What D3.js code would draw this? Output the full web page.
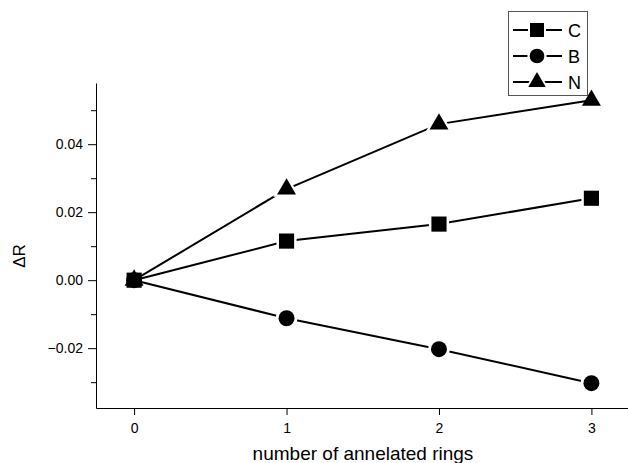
<!DOCTYPE html>
<html>
<head>
<meta charset="utf-8">
<script src="https://cdn.jsdelivr.net/npm/d3@7"></script>
<style>
body { margin: 0; background: #fff; }
text { font-family: "Liberation Sans", Arial, sans-serif; }
</style>
</head>
<body>
<svg width="628" height="463"></svg>
<script>
// data
var rings = [0, 1, 2, 3];
var seriesNames = ['C', 'B', 'N'];
var valC = [0, 0.0115, 0.0165, 0.0241];
var valB = [0, -0.0112, -0.0203, -0.0303];
var valN = [0, 0.0268, 0.0459, 0.0529];
var yMajor = [-0.02, 0.00, 0.02, 0.04];
var yMinor = [-0.03, -0.01, 0.01, 0.03, 0.05];

var series = [
  {name: 'C', shape: d3.symbolSquare, size: 230, values: valC},
  {name: 'B', shape: d3.symbolCircle, size: 200, values: valB},
  {name: 'N', shape: d3.symbolTriangle, size: 155, values: valN}
];

var svg = d3.select('svg');
var x = d3.scaleLinear().domain([-0.25, 3.24]).range([96, 628]);
var y = d3.scaleLinear().domain([-0.0376, 0.058]).range([408, 83]);

// x axis
var xAxis = d3.axisBottom(x).tickValues(rings).tickSize(7).tickPadding(8)
  .tickFormat(d3.format('d')).tickSizeOuter(0);
var gx = svg.append('g').attr('transform', 'translate(0,408)').call(xAxis);
gx.attr('font-size', 14).attr('font-family', '"Liberation Sans", Arial, sans-serif');
gx.selectAll('text').attr('fill', '#000');

// y axis
var yAxis = d3.axisLeft(y).tickValues(yMajor).tickSize(8).tickPadding(5)
  .tickFormat(d3.format('.2f')).tickSizeOuter(0);
var gy = svg.append('g').attr('transform', 'translate(96,0)').call(yAxis);
gy.attr('font-size', 14).attr('font-family', '"Liberation Sans", Arial, sans-serif');
gy.selectAll('text').attr('fill', '#000');
svg.append('g').attr('transform', 'translate(96,0)')
  .call(d3.axisLeft(y).tickValues(yMinor).tickSize(5).tickFormat('').tickSizeOuter(0))
  .select('.domain').remove();
svg.selectAll('.domain').attr('stroke', '#000').attr('stroke-width', 1);

// axis titles
svg.append('text').attr('x', 363).attr('y', 460).attr('text-anchor', 'middle')
  .attr('font-size', 19).text('number of annelated rings');
svg.append('text').attr('transform', 'translate(25,256) rotate(-90)')
  .attr('text-anchor', 'middle').attr('font-size', 17).text('ΔR');

// white halo so lines stop short of the markers, like the original plot
function halo(size) {
  var r = Math.sqrt(size);
  return (r + 5) * (r + 5);
}

// legend (drawn first, the last N marker sits on top of its corner)
var leg = svg.append('g');
leg.append('rect').attr('x', 508.5).attr('y', 11.5).attr('width', 79).attr('height', 84)
  .attr('fill', '#fff').attr('stroke', '#555').attr('stroke-width', 1);
var legY = d3.scalePoint().domain(seriesNames).range([30, 82]);
series.forEach(function (s) {
  var yy = legY(s.name);
  leg.append('line').attr('x1', 513).attr('x2', 562).attr('y1', yy).attr('y2', yy)
    .attr('stroke', '#000').attr('stroke-width', 2);
  var m = leg.append('g').attr('transform', 'translate(537,' + yy + ')');
  m.append('path').attr('d', d3.symbol().type(s.shape).size(halo(s.size * 0.85) * 0.9)).attr('fill', '#fff');
  m.append('path').attr('d', d3.symbol().type(s.shape).size(s.size * 0.85)).attr('fill', '#000');
  leg.append('text').attr('x', 568).attr('y', yy + 7).attr('font-size', 18).text(s.name);
});

// lines and markers
var line = d3.line().x(function (d, i) { return x(rings[i]); }).y(function (d) { return y(d); });
series.forEach(function (s) {
  svg.append('path').datum(s.values).attr('d', line)
    .attr('fill', 'none').attr('stroke', '#000').attr('stroke-width', 2);
});
series.forEach(function (s) {
  var g = svg.selectAll(null).data(s.values).enter().append('g')
    .attr('transform', function (d, i) { return 'translate(' + x(rings[i]) + ',' + y(d) + ')'; });
  g.filter(function (d, i) { return i > 0 && !(s.name === 'N' && i === 3); }).append('path')
    .attr('d', d3.symbol().type(s.shape).size(halo(s.size))).attr('fill', '#fff');
  g.append('path')
    .attr('d', d3.symbol().type(s.shape).size(s.size)).attr('fill', '#000');
});
</script>
</body>
</html>
